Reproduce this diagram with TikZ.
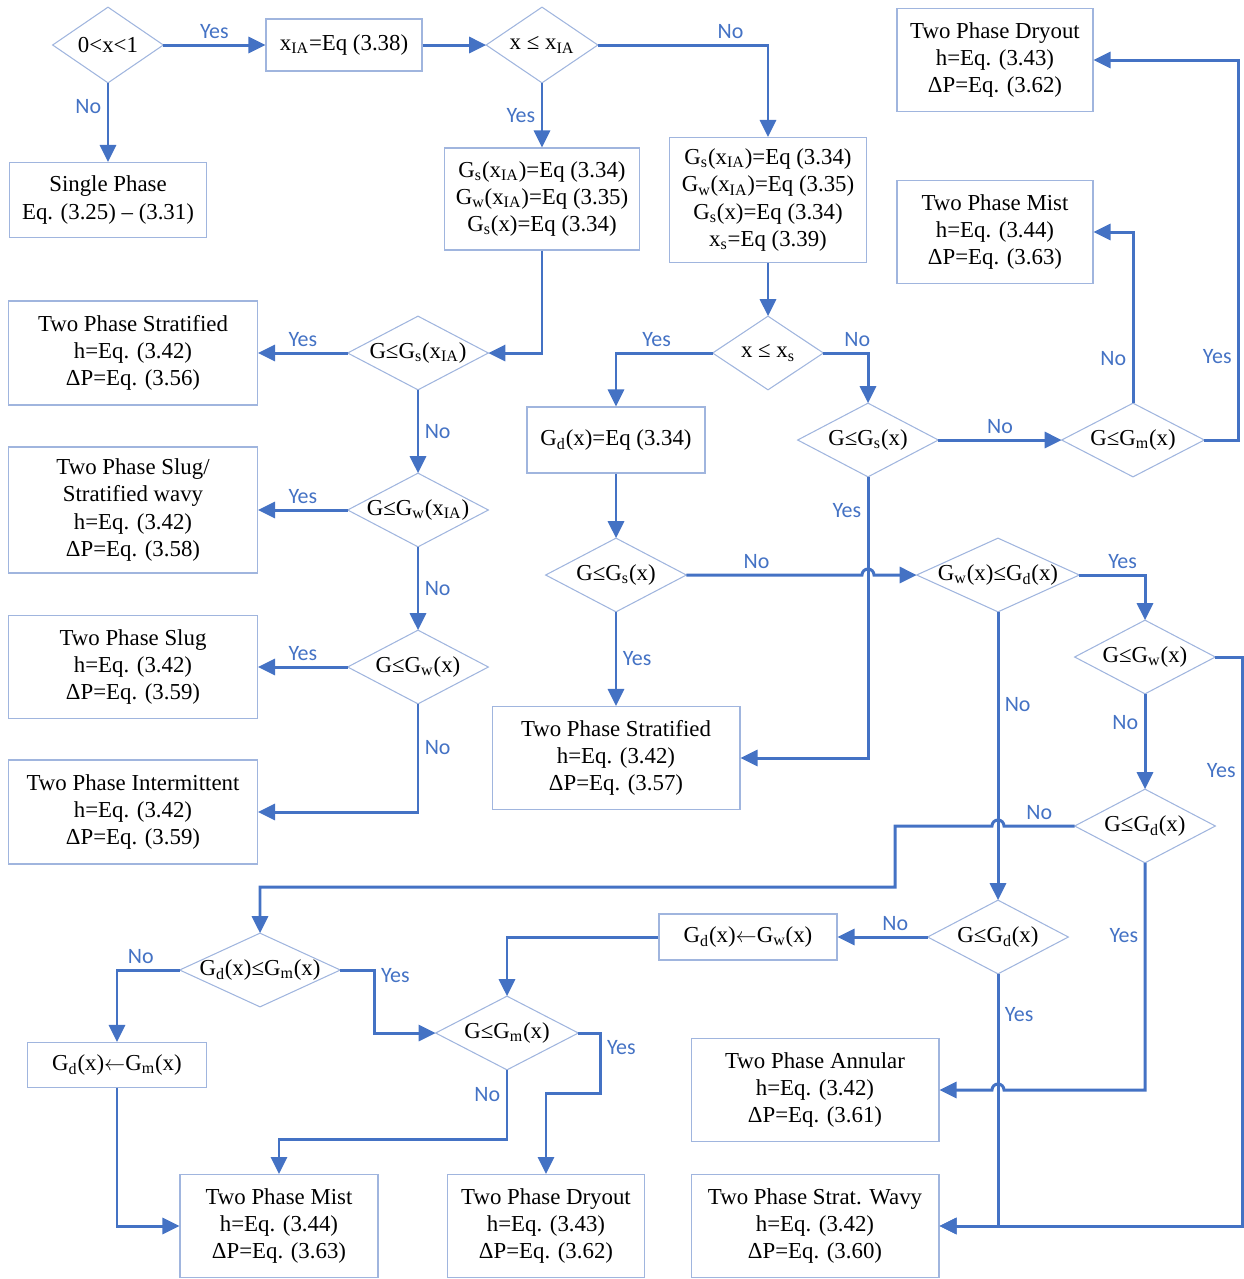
\documentclass[tikz,border=0pt]{standalone}
\usepackage{fontspec}
\setmainfont{Liberation Serif}
\newfontfamily\lblfont{Carlito}
\usetikzlibrary{arrows.meta}
\usepackage{xcolor}

\definecolor{flow}{RGB}{68,114,196}
\definecolor{frame}{RGB}{160,181,222}
\newcommand\xia{x\textsubscript{IA}}

\tikzset{
  box/.style={draw=frame, line width=0.6pt, align=center, inner sep=1pt, font=\fontsize{13}{15.5}\selectfont},
  dec/.style={minimum width=2.8cm, minimum height=1.46cm, inner sep=0pt, font=\fontsize{13}{15.5}\selectfont},
  flowline/.style={flow, line width=1.7pt, -{Triangle[length=3.4mm,width=3.2mm]}},
  lbl/.style={text=flow, font=\lblfont\fontsize{12.5}{14}\selectfont, inner sep=3pt},
}

\begin{document}
\begin{tikzpicture}[x=0.02cm, y=-0.02cm]
\useasboundingbox (0,0) rectangle (1244,1279);

% decisions (diamonds drawn below)
\node[dec, minimum width=2.2cm, minimum height=1.5cm] (d0) at (108,45) {0<x<1};
\node[dec, minimum width=2.22cm, minimum height=1.5cm] (d1) at (542,45) {x ≤ \xia};
\node[dec] (dgsia) at (418,353) {G≤G\textsubscript{s}(\xia)};
\node[dec, minimum width=2.2cm] (dxs) at (768,353) {x ≤ x\textsubscript{s}};
\node[dec] (dgsx) at (868,440) {G≤G\textsubscript{s}(x)};
\node[dec, minimum width=2.84cm] (dgm) at (1133,440) {G≤G\textsubscript{m}(x)};
\node[dec] (dgwia) at (418,510) {G≤G\textsubscript{w}(\xia)};
\node[dec] (dgsx2) at (616,575) {G≤G\textsubscript{s}(x)};
\node[dec, minimum width=3.24cm] (dgwgd) at (998,575) {G\textsubscript{w}(x)≤G\textsubscript{d}(x)};
\node[dec] (dgwx) at (418,667) {G≤G\textsubscript{w}(x)};
\node[dec] (dgwr) at (1145,657) {G≤G\textsubscript{w}(x)};
\node[dec] (dgdr) at (1145,826) {G≤G\textsubscript{d}(x)};
\node[dec] (dgdm) at (998,937) {G≤G\textsubscript{d}(x)};
\node[dec, minimum width=3.2cm] (dgdgm) at (260,970) {G\textsubscript{d}(x)≤G\textsubscript{m}(x)};
\node[dec, minimum width=2.84cm] (dgm2) at (507,1033) {G≤G\textsubscript{m}(x)};

\foreach \n in {d0,d1,dgsia,dxs,dgsx,dgm,dgwia,dgsx2,dgwgd,dgwx,dgwr,dgdr,dgdm,dgdgm,dgm2}
  \draw[frame, line width=0.6pt] (\n.west) -- (\n.north) -- (\n.east) -- (\n.south) -- cycle;

% process and result boxes
\node[box, minimum width=3.12cm, minimum height=1.04cm] (xia) at (344,45) {\xia=Eq (3.38)};
\node[box, minimum width=3.94cm, minimum height=1.5cm] (single) at (108,200) {Single Phase\\Eq. (3.25) – (3.31)};
\node[box, minimum width=3.9cm, minimum height=2.04cm] (gs1) at (542,199) {G\textsubscript{s}(\xia)=Eq (3.34)\\G\textsubscript{w}(\xia)=Eq (3.35)\\G\textsubscript{s}(x)=Eq (3.34)};
\node[box, minimum width=3.94cm, minimum height=2.5cm] (gs2) at (768,200) {G\textsubscript{s}(\xia)=Eq (3.34)\\G\textsubscript{w}(\xia)=Eq (3.35)\\G\textsubscript{s}(x)=Eq (3.34)\\x\textsubscript{s}=Eq (3.39)};
\node[box, minimum width=3.92cm, minimum height=2.06cm] (dry1) at (995,60) {Two Phase Dryout\\h=Eq. (3.43)\\ΔP=Eq. (3.62)};
\node[box, minimum width=3.92cm, minimum height=2.06cm] (mist1) at (995,232) {Two Phase Mist\\h=Eq. (3.44)\\ΔP=Eq. (3.63)};
\node[box, minimum width=4.98cm, minimum height=2.08cm] (strat1) at (133,353) {Two Phase Stratified\\h=Eq. (3.42)\\ΔP=Eq. (3.56)};
\node[box, minimum width=3.56cm, minimum height=1.32cm] (gdeq) at (616,440) {G\textsubscript{d}(x)=Eq (3.34)};
\node[box, minimum width=4.98cm, minimum height=2.52cm] (slugsw) at (133,510) {Two Phase Slug/\\Stratified wavy\\h=Eq. (3.42)\\ΔP=Eq. (3.58)};
\node[box, minimum width=4.98cm, minimum height=2.06cm] (slug) at (133,667) {Two Phase Slug\\h=Eq. (3.42)\\ΔP=Eq. (3.59)};
\node[box, minimum width=4.96cm, minimum height=2.06cm] (strat2) at (616,758) {Two Phase Stratified\\h=Eq. (3.42)\\ΔP=Eq. (3.57)};
\node[box, minimum width=4.98cm, minimum height=2.08cm] (inter) at (133,812) {Two Phase Intermittent\\h=Eq. (3.42)\\ΔP=Eq. (3.59)};
\node[box, minimum width=3.56cm, minimum height=0.92cm] (gdgw) at (748,937) {G\textsubscript{d}(x)$\leftarrow$G\textsubscript{w}(x)};
\node[box, minimum width=3.58cm, minimum height=0.9cm] (gdgm) at (117,1065) {G\textsubscript{d}(x)$\leftarrow$G\textsubscript{m}(x)};
\node[box, minimum width=4.96cm, minimum height=2.06cm] (annular) at (815,1090) {Two Phase Annular\\h=Eq. (3.42)\\ΔP=Eq. (3.61)};
\node[box, minimum width=3.96cm, minimum height=2.06cm] (mist2) at (279,1226) {Two Phase Mist\\h=Eq. (3.44)\\ΔP=Eq. (3.63)};
\node[box, minimum width=3.94cm, minimum height=2.06cm] (dry2) at (546,1226) {Two Phase Dryout\\h=Eq. (3.43)\\ΔP=Eq. (3.62)};
\node[box, minimum width=4.96cm, minimum height=2.06cm] (wavy) at (815,1226) {Two Phase Strat. Wavy\\h=Eq. (3.42)\\ΔP=Eq. (3.60)};

% top row
\draw[flowline] (d0.east) -- node[lbl, above]{Yes} (xia.west);
\draw[flowline] (d0.south) -- node[lbl, left, pos=0.3]{No} (single.north);
\draw[flowline] (xia.east) -- (d1.west);
\draw[flowline] (d1.east) -| node[lbl, above, pos=0.39]{No} (gs2.north);
\draw[flowline] (d1.south) -- node[lbl, left]{Yes} (gs1.north);

% left column
\draw[flowline] (gs1.south) |- (dgsia.east);
\draw[flowline] (dgsia.west) -- node[lbl, above]{Yes} (strat1.east);
\draw[flowline] (dgsia.south) -- node[lbl, right]{No} (dgwia.north);
\draw[flowline] (dgwia.west) -- node[lbl, above]{Yes} (slugsw.east);
\draw[flowline] (dgwia.south) -- node[lbl, right]{No} (dgwx.north);
\draw[flowline] (dgwx.west) -- node[lbl, above]{Yes} (slug.east);
\draw[flowline] (dgwx.south) |- node[lbl, right, pos=0.2]{No} (inter.east);

% middle and right
\draw[flowline] (gs2.south) -- (dxs.north);
\draw[flowline] (dxs.west) -| node[lbl, above, pos=0.29]{Yes} (gdeq.north);
\draw[flowline] (dxs.east) -| node[lbl, above, pos=0.38]{No} (dgsx.north);
\draw[flowline] (dgsx.east) -- node[lbl, above]{No} (dgm.west);
\draw[flowline] (dgm.north) |- node[lbl, left, pos=0.13]{No} (mist1.east);
\draw[flowline] (dgm.east) -- ++(34,0) |- node[lbl, left, pos=0.11]{Yes} (dry1.east);
\draw[flowline] (gdeq.south) -- (dgsx2.north);
\draw[flowline] (dgsx2.south) -- node[lbl, right]{Yes} (strat2.north);
\draw[flowline] (dgsx.south) |- node[lbl, left, pos=0.06]{Yes} (strat2.east);

% line hops
\coordinate (hop0) at (dgsx.south |- dgsx2.east);
\coordinate (hop1) at (dgwgd.south |- dgdr.west);
\coordinate (hop2) at (dgdm.south |- annular.east);

\draw[flowline] (dgsx2.east) -- node[lbl, above, pos=0.4]{No} ([xshift=-1.2mm]hop0)
  arc[start angle=180, end angle=0, radius=1.2mm] -- (dgwgd.west);
\draw[flowline] (dgwgd.east) -| node[lbl, above, pos=0.33]{Yes} (dgwr.north);
\draw[flowline] (dgwgd.south) -- node[lbl, right, pos=0.32]{No} (dgdm.north);
\draw[flowline] (dgwr.south) -- node[lbl, left, pos=0.3]{No} (dgdr.north);
\draw[flowline] (dgwr.east) -- ++(27,0) |- node[lbl, left, pos=0.1]{Yes} (wavy.east);
\draw[flowline] (dgdr.west) -- node[lbl, above]{No} ([xshift=1.2mm]hop1)
  arc[start angle=0, end angle=180, radius=1.2mm] -| ++(-97,61) -| (dgdgm.north);
\draw[flowline] (dgdr.south) |- node[lbl, left, pos=0.16]{Yes} ([xshift=1.2mm]hop2)
  arc[start angle=0, end angle=180, radius=1.2mm] -- (annular.east);
\draw[flowline] (dgdm.west) -- node[lbl, above, pos=0.36]{No} (gdgw.east);
\draw[flowline] (dgdm.south) |- node[lbl, right, pos=0.08]{Yes} (wavy.east);

% bottom left
\draw[flowline] (gdgw.west) -| (dgm2.north);
\draw[flowline] (dgdgm.west) -| node[lbl, above, pos=0.31]{No} (gdgm.north);
\draw[flowline] (dgdgm.east) -- ++(34,0) |- node[lbl, right, pos=0.04]{Yes} (dgm2.west);
\draw[flowline] (gdgm.south) |- (mist2.west);
\draw[flowline] (dgm2.south) -- node[lbl, left, pos=0.35]{No} ++(0,70) -| (mist2.north);
\draw[flowline] (dgm2.east) -- ++(22,0) -- node[lbl, right, pos=0.25]{Yes} ++(0,60) -| (dry2.north);
\end{tikzpicture}
\end{document}
